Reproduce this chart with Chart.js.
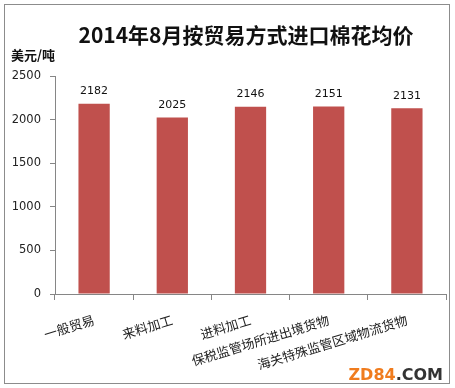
<!DOCTYPE html>
<html><head><meta charset="utf-8">
<script src="https://cdn.jsdelivr.net/npm/chart.js@4"></script>
<style>html,body{margin:0;padding:0;background:#fff}#c{display:block}</style>
</head><body>
<canvas id="c" width="455" height="388"></canvas>
<script>
const categories = ['一般贸易','来料加工','进料加工','保税监管场所进出境货物','海关特殊监管区域物流货物'];
const values = [2182, 2025, 2146, 2151, 2131];
const yTicks = [0, 500, 1000, 1500, 2000, 2500];
const titleText = '2014年8月按贸易方式进口棉花均价';
const unitText = '美元/吨';
const CJK = '"Noto Sans CJK SC", "Noto Sans", sans-serif';

const deco = {
  id: 'deco',
  beforeDraw(chart) {
    const ctx = chart.ctx;
    ctx.save();
    ctx.fillStyle = '#fff';
    ctx.fillRect(0, 0, chart.width, chart.height);
    ctx.restore();
  },
  afterDraw(chart) {
    const ctx = chart.ctx;
    ctx.save();
    ctx.strokeStyle = '#8c8c8c';
    ctx.lineWidth = 1;
    ctx.strokeRect(4.5, 4.5, 445, 379);
    ctx.fillStyle = '#111';
    ctx.font = 'bold 21px ' + CJK;
    ctx.textAlign = 'center';
    ctx.textBaseline = 'middle';
    ctx.fillText(titleText, 246, 35);
    ctx.font = 'bold 13px ' + CJK;
    ctx.textAlign = 'left';
    ctx.fillText(unitText, 11, 55);
    // data labels
    ctx.font = '11px "DejaVu Sans", sans-serif';
    ctx.textAlign = 'center';
    ctx.textBaseline = 'bottom';
    ctx.fillStyle = '#111';
    const meta = chart.getDatasetMeta(0);
    meta.data.forEach((el, i) => {
      ctx.fillText(String(values[i]), el.x, el.y - 7);
    });
    // watermark
    ctx.font = 'bold 16px "DejaVu Sans", sans-serif';
    ctx.textBaseline = 'alphabetic';
    ctx.textAlign = 'left';
    const w1 = ctx.measureText('ZD84').width;
    const w2 = ctx.measureText('.COM').width;
    const x0 = 443 - w1 - w2;
    ctx.fillStyle = '#f07c1e';
    ctx.fillText('ZD84', x0, 380);
    ctx.fillStyle = '#333';
    ctx.fillText('.COM', x0 + w1, 380);
    ctx.restore();
  }
};

new Chart(document.getElementById('c'), {
  type: 'bar',
  data: {
    labels: categories,
    datasets: [{
      data: values,
      backgroundColor: '#c0504d',
      borderWidth: 0,
      barPercentage: 0.4,
      categoryPercentage: 1.0
    }]
  },
  options: {
    responsive: false,
    animation: false,
    devicePixelRatio: 1,
    layout: { padding: { top: 76, left: 0, right: 9, bottom: 0 } },
    plugins: { legend: { display: false }, title: { display: false }, tooltip: { enabled: false } },
    scales: {
      x: {
        afterFit(scale) { scale.height = 94; },
        grid: { display: true, drawOnChartArea: false, offset: true, color: '#868686', tickLength: 6 },
        border: { color: '#868686' },
        ticks: {
          color: '#222',
          font: { family: CJK, size: 13 },
          minRotation: 17, maxRotation: 17,
          autoSkip: false, padding: 12
        }
      },
      y: {
        min: 0, max: 2500,
        afterFit(scale) { scale.width = 55; },
        afterBuildTicks(axis) { axis.ticks = yTicks.map(v => ({ value: v })); },
        grid: { display: true, drawOnChartArea: false, color: '#868686', tickLength: 5 },
        border: { color: '#868686' },
        ticks: {
          color: '#222',
          font: { family: '"DejaVu Sans", sans-serif', size: 11.5 },
          padding: 9,
          callback: (v) => String(v)
        }
      }
    }
  },
  plugins: [deco]
});
</script>
</body></html>
